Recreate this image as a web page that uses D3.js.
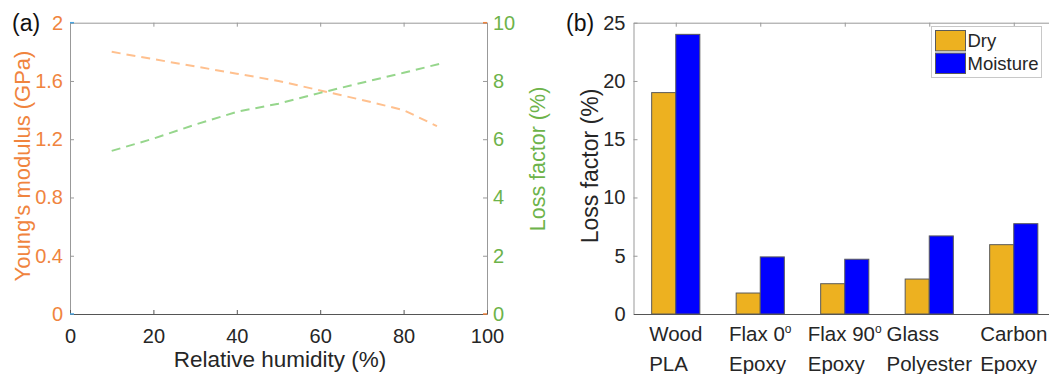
<!DOCTYPE html>
<html>
<head>
<meta charset="utf-8">
<script src="https://cdn.jsdelivr.net/npm/d3@7"></script>
<style>
  body { margin: 0; background: #fff; }
  text { font-family: "Liberation Sans", Arial, sans-serif; }
</style>
</head>
<body>
<script>
// ---- panel (a) data ----
const rhModulus = [10, 20, 30, 40, 50, 60, 70, 80, 88];
const modulus = [1.80, 1.75, 1.70, 1.65, 1.60, 1.535, 1.47, 1.40, 1.29];
const rhLoss = [10, 20, 30, 40, 50, 60, 70, 80, 89];
const lossA = [5.6, 6.02, 6.5, 6.94, 7.22, 7.59, 7.94, 8.28, 8.6];
const rhTicks = [0, 20, 40, 60, 80, 100];
const modulusTicks = [0, 0.4, 0.8, 1.2, 1.6, 2];
const lossTicksA = [0, 2, 4, 6, 8, 10];

// ---- panel (b) data ----
const materials = [["Wood", "PLA"], ["Flax 0^o", "Epoxy"], ["Flax 90^o", "Epoxy"], ["Glass", "Polyester"], ["Carbon", "Epoxy"]];
const dry = [19, 1.8, 2.6, 3.0, 5.95];
const moisture = [24, 4.9, 4.7, 6.7, 7.75];
const seriesNames = ["Dry", "Moisture"];
const lossTicksB = [0, 5, 10, 15, 20, 25];

const width = 1049, height = 374;
const orangeText = "#f0843e", greenText = "#6db34a";
const orangeLine = "#ffc08e", greenLine = "#96d68c";
const barColors = ["#edb120", "#0000ff"];

const svg = d3.select("body").append("svg")
    .attr("width", width)
    .attr("height", height);

// style an axis group
function styleAxis(g, lineColor, textColor, size) {
    g.select(".domain").attr("stroke", lineColor);
    g.selectAll(".tick line").attr("stroke", lineColor);
    g.selectAll(".tick text")
        .attr("fill", textColor)
        .style("font-size", size + "px")
        .style("font-family", '"Liberation Sans", Arial, sans-serif');
}

// ================= panel (a) =================
const a = { left: 70, right: 487, top: 22.7, bottom: 314 };
const x = d3.scaleLinear().domain([0, 100]).range([a.left, a.right]);
const yMod = d3.scaleLinear().domain([0, 2]).range([a.bottom, a.top]);
const yLoss = d3.scaleLinear().domain([0, 10]).range([a.bottom, a.top]);

const fmt = d => String(+d.toFixed(1));

svg.append("g")
    .attr("transform", `translate(0,${a.top})`)
    .call(d3.axisTop(x).tickValues(rhTicks).tickSize(-4).tickSizeOuter(0).tickFormat(""))
    .call(g => styleAxis(g, "#999", "#262626", 20));

svg.append("g")
    .attr("transform", `translate(${a.left},0)`)
    .call(d3.axisLeft(yMod).tickValues(modulusTicks).tickSize(-4).tickSizeOuter(0).tickPadding(7).tickFormat(fmt))
    .call(g => styleAxis(g, "#999", orangeText, 20));

svg.append("g")
    .attr("transform", `translate(${a.right},0)`)
    .call(d3.axisRight(yLoss).tickValues(lossTicksA).tickSize(-4).tickSizeOuter(0).tickPadding(6))
    .call(g => styleAxis(g, "#999", greenText, 20));

svg.append("g")
    .attr("transform", `translate(0,${a.bottom})`)
    .call(d3.axisBottom(x).tickValues(rhTicks).tickSize(-4).tickSizeOuter(0).tickPadding(14.5))
    .call(g => styleAxis(g, "#555", "#262626", 20));

// small coloured corners left by the twin axes
svg.append("g").attr("stroke-width", 1.5)
    .selectAll("line")
    .data([[a.left, a.top, "#4aa3df"], [a.left, a.bottom, "#4aa3df"], [a.right - 4, a.top, orangeText], [a.right - 4, a.bottom, orangeText]])
    .join("line")
    .attr("x1", d => d[0]).attr("x2", d => d[0] + 4)
    .attr("y1", d => d[1]).attr("y2", d => d[1])
    .attr("stroke", d => d[2]);

const modLine = d3.line().x(d => x(d[0])).y(d => yMod(d[1]));
const lossLine = d3.line().x(d => x(d[0])).y(d => yLoss(d[1]));

svg.append("path")
    .datum(d3.zip(rhModulus, modulus))
    .attr("d", modLine)
    .attr("fill", "none")
    .attr("stroke", orangeLine)
    .attr("stroke-width", 2)
    .attr("stroke-dasharray", "9,6");

svg.append("path")
    .datum(d3.zip(rhLoss, lossA))
    .attr("d", lossLine)
    .attr("fill", "none")
    .attr("stroke", greenLine)
    .attr("stroke-width", 2)
    .attr("stroke-dasharray", "9,6");

svg.append("text")
    .attr("x", 280).attr("y", 367)
    .attr("text-anchor", "middle")
    .attr("fill", "#262626")
    .style("font-size", "22.5px")
    .text("Relative humidity (%)");

svg.append("text")
    .attr("transform", "translate(30,166) rotate(-90)")
    .attr("text-anchor", "middle")
    .attr("fill", orangeText)
    .style("font-size", "22px")
    .text("Young's modulus (GPa)");

svg.append("text")
    .attr("transform", "translate(545,159) rotate(-90)")
    .attr("text-anchor", "middle")
    .attr("fill", greenText)
    .style("font-size", "21.5px")
    .text("Loss factor (%)");

svg.append("text")
    .attr("x", 12).attr("y", 31)
    .attr("fill", "#111")
    .style("font-size", "23px")
    .text("(a)");

// ================= panel (b) =================
const b = { left: 633.5, right: 1056, top: 22.7, bottom: 314 };
const xb = d3.scaleLinear().domain([0.5, 5.5]).range([b.left, b.right]);
const yb = d3.scaleLinear().domain([0, 25]).range([b.bottom, b.top]);
const catIdx = materials.map((m, i) => i + 1);
const barW = xb(1.285) - xb(1);

svg.append("g")
    .attr("transform", `translate(0,${b.top})`)
    .call(d3.axisTop(xb).tickValues(catIdx).tickSize(-4).tickSizeOuter(0).tickFormat(""))
    .call(g => styleAxis(g, "#999", "#262626", 20));

svg.append("g")
    .attr("transform", `translate(${b.left},0)`)
    .call(d3.axisLeft(yb).tickValues(lossTicksB).tickSize(-4).tickSizeOuter(0).tickPadding(8))
    .call(g => styleAxis(g, "#999", "#262626", 20));

const groups = [dry, moisture];
groups.forEach((vals, s) => {
    svg.append("g")
        .selectAll("rect")
        .data(vals)
        .join("rect")
        .attr("x", (d, i) => xb(i + 1) - barW + s * barW)
        .attr("y", d => yb(d))
        .attr("width", barW)
        .attr("height", d => yb(0) - yb(d))
        .attr("fill", barColors[s])
        .attr("stroke", "#5a5a5a")
        .attr("stroke-width", 1);
});

svg.append("g")
    .attr("transform", `translate(0,${b.bottom})`)
    .call(d3.axisBottom(xb).tickValues(catIdx).tickSize(0).tickSizeOuter(0).tickFormat(""))
    .call(g => styleAxis(g, "#555", "#262626", 20));

// two-line category labels, left aligned inside a block centred on the tick
function addLabelLine(t, str) {
    const parts = str.split("^");
    t.append("tspan").text(parts[0]);
    if (parts[1]) {
        t.append("tspan").attr("dy", -8).style("font-size", "12px").text(parts[1]);
    }
}
materials.forEach((lines, i) => {
    const g = svg.append("g");
    const texts = lines.map((str, k) => {
        const t = g.append("text")
            .attr("y", 341 + k * 29.5)
            .attr("fill", "#262626")
            .style("font-size", "20.5px");
        addLabelLine(t, str);
        return t;
    });
    const w = d3.max(texts, t => t.node().getComputedTextLength());
    texts.forEach(t => t.attr("x", xb(i + 1) - w / 2));
});

svg.append("text")
    .attr("transform", "translate(598,166) rotate(-90)")
    .attr("text-anchor", "middle")
    .attr("fill", "#262626")
    .style("font-size", "23px")
    .text("Loss factor (%)");

svg.append("text")
    .attr("x", 566).attr("y", 31)
    .attr("fill", "#111")
    .style("font-size", "23px")
    .text("(b)");

// legend
const legend = svg.append("g").attr("transform", "translate(931.5,26.5)");
legend.append("rect")
    .attr("width", 110).attr("height", 51)
    .attr("fill", "#fff").attr("stroke", "#c8c8c8");
const rows = d3.scaleBand().domain(seriesNames).range([4, 47]).paddingInner(0.1);
legend.selectAll("rect.sw")
    .data(seriesNames)
    .join("rect")
    .attr("class", "sw")
    .attr("x", 4).attr("y", d => rows(d))
    .attr("width", 30).attr("height", rows.bandwidth())
    .attr("fill", (d, i) => barColors[i])
    .attr("stroke", "#5a5a5a");
legend.selectAll("text")
    .data(seriesNames)
    .join("text")
    .attr("x", 36)
    .attr("y", d => rows(d) + rows.bandwidth() / 2)
    .attr("dy", "0.35em")
    .attr("fill", "#262626")
    .style("font-size", "18.5px")
    .text(d => d);
</script>
</body>
</html>
